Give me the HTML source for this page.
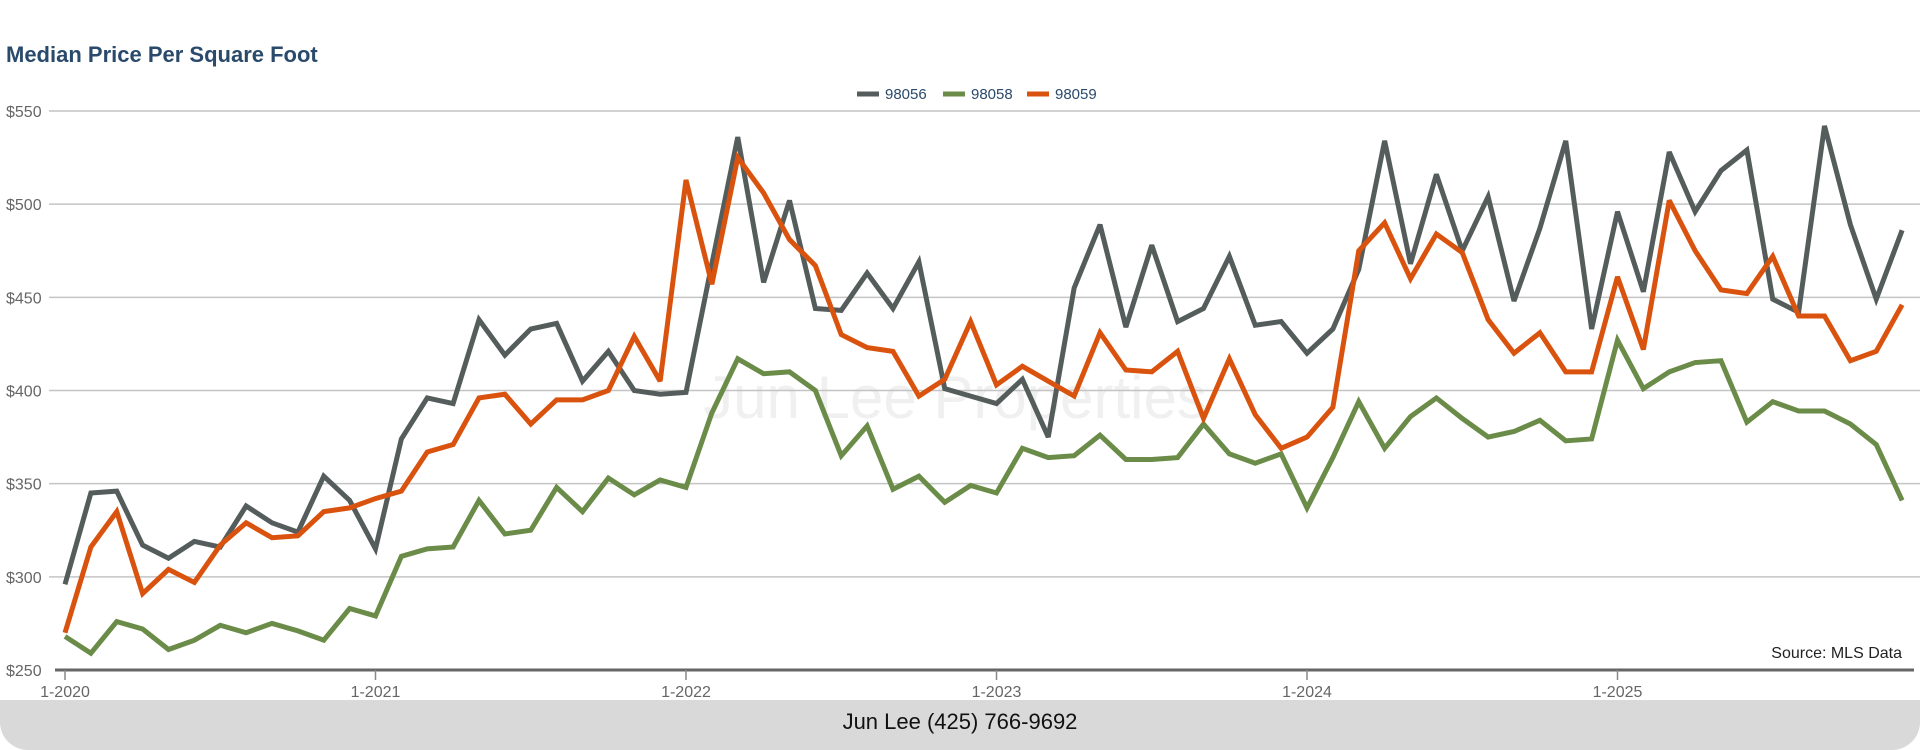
<!DOCTYPE html>
<html><head><meta charset="utf-8"><style>
html,body{margin:0;padding:0;background:#fff;width:1920px;height:750px;overflow:hidden;font-family:"Liberation Sans",sans-serif;}
#footer{position:absolute;left:0;top:700px;width:1920px;height:50px;background:#d9d9d9;border-radius:0 0 28px 28px;text-align:center;line-height:44px;font-size:22px;color:#111;}
</style></head><body>
<svg id="chart" width="1920" height="700" style="position:absolute;left:0;top:0"></svg>
<div id="footer">Jun Lee (425) 766-9692</div>
<script>
const yTicks=[250,300,350,400,450,500,550];
const yearLabels=["1-2020","1-2021","1-2022","1-2023","1-2024","1-2025"];
const s98056=[296,345,346,317,310,319,316,338,329,324,354,341,315,374,396,393,438,419,433,436,405,421,400,398,399,468,536,458,502,444,443,463,444,469,401,397,393,406,375,455,489,434,478,437,444,472,435,437,420,433,465,534,468,516,475,504,448,487,534,433,496,453,528,496,518,529,449,442,542,489,449,486];
const s98058=[268,259,276,272,261,266,274,270,275,271,266,283,279,311,315,316,341,323,325,348,335,353,344,352,348,388,417,409,410,400,365,381,347,354,340,349,345,369,364,365,376,363,363,364,382,366,361,366,337,364,394,369,386,396,385,375,378,384,373,374,427,401,410,415,416,383,394,389,389,382,371,341];
const s98059=[270,316,335,291,304,297,317,329,321,322,335,337,342,346,367,371,396,398,382,395,395,400,429,405,513,457,525,506,481,467,430,423,421,397,406,437,403,413,405,397,431,411,410,421,385,417,387,369,375,391,475,490,460,484,474,438,420,431,410,410,461,422,502,475,454,452,472,440,440,416,421,446];
const seriesNames=["98056","98058","98059"];
const colors=["#555d5c","#6a8c48","#d9530f"];
const NS="http://www.w3.org/2000/svg";
const svg=document.getElementById('chart');
const x=i=>65+i*(1617.5-65)/60;
const y=v=>670-(v-250)*(670-111)/300;
function mk(tag,attrs,text){const e=document.createElementNS(NS,tag);for(const k in attrs)e.setAttribute(k,attrs[k]);if(text!==undefined)e.textContent=text;svg.appendChild(e);return e;}
let t=mk('text',{x:6,y:62,'font-size':22,'font-weight':'bold',fill:'#2a4a6b'},'Median Price Per Square Foot');


let wm=mk('text',{x:955,y:418,'font-size':60,fill:'#f0f0f0','text-anchor':'middle'},'Jun Lee Properties');


yTicks.forEach(v=>{
  if(v>250){const g=mk('line',{x1:49,x2:1920,y1:y(v),y2:y(v),stroke:'#c4c4c4','stroke-width':1.5});
  
  }
  const l=mk('text',{x:6,y:y(v)+6,'font-size':16,fill:'#666'},'$'+v);
  
  
});
const ax=mk('line',{x1:55,x2:1914,y1:670,y2:670,stroke:'#666','stroke-width':3});


yearLabels.forEach((lab,k)=>{
  const xx=x(k*12);
  const tk=mk('line',{x1:xx,x2:xx,y1:670,y2:680,stroke:'#888','stroke-width':1.5});
  
  
  const tl=mk('text',{x:xx,y:697,'font-size':16,fill:'#666','text-anchor':'middle'},lab);
  
  
});
[s98056,s98058,s98059].forEach((s,k)=>{
  const p=mk('polyline',{points:s.map((v,i)=>x(i)+','+y(v)).join(' '),fill:'none',stroke:colors[k],'stroke-width':5,'stroke-linejoin':'miter','stroke-miterlimit':3});
  
  
});
const legX=[857,943,1027];
seriesNames.forEach((n,k)=>{
  const m=mk('line',{x1:legX[k],x2:legX[k]+22,y1:94,y2:94,stroke:colors[k],'stroke-width':5});
  
  
  const lt=mk('text',{x:legX[k]+28,y:99,'font-size':15,fill:'#2a4a6b'},n);
  
  
});
const src=mk('text',{x:1902,y:658,'font-size':16,fill:'#222','text-anchor':'end'},'Source: MLS Data');


</script>
</body></html>
